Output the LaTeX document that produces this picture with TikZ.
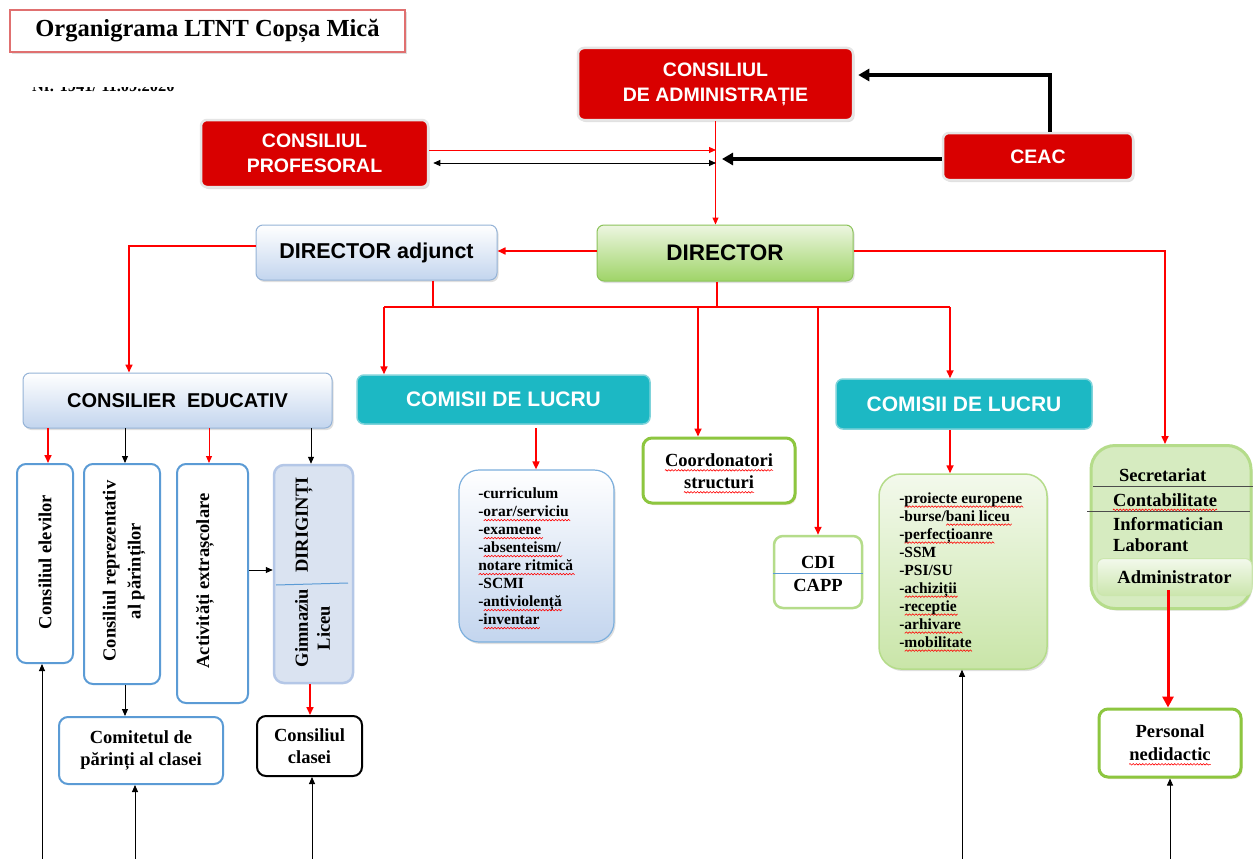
\documentclass[tikz,border=0pt]{standalone}
\usepackage{fontspec}
\setmainfont{Liberation Serif}
\newfontfamily\arialf{Liberation Sans}
\usetikzlibrary{arrows.meta,shadows,decorations.pathmorphing}
\definecolor{boxred}{HTML}{D90000}
\definecolor{tealc}{HTML}{1CB8C4}
\definecolor{tealb}{HTML}{7FD3DA}
\definecolor{gradblue}{HTML}{C3D5EE}
\definecolor{bordblue}{HTML}{95B3D7}
\definecolor{lblue}{HTML}{5B9BD5}
\definecolor{dirgtop}{HTML}{EDF6E1}
\definecolor{dirgbot}{HTML}{9FD468}
\definecolor{dirgb}{HTML}{8CC35A}
\definecolor{gbord}{HTML}{8DC63F}
\definecolor{lgbord}{HTML}{B5DC8A}
\definecolor{secfill}{HTML}{D6EBC0}
\definecolor{l2top}{HTML}{F3F9EC}
\definecolor{l2bot}{HTML}{C9E5A8}
\definecolor{dirfill}{HTML}{DAE3F1}
\definecolor{dirbord}{HTML}{B4C7E7}
\definecolor{titleb}{HTML}{E07070}
\newsavebox\sqbox
\newdimen\sqx \newdimen\sqw \newcount\sqn
\newcommand\sqwave[1]{\sqw=#1\relax
 \begin{pgfpicture}%
  \pgfsetlinewidth{0.6pt}\pgfsetstrokecolor{red}%
  \pgfpathmoveto{\pgfpointorigin}\sqx=0pt \sqn=0
  \loop\ifdim\sqx<\sqw
    \advance\sqx by 1.6pt \advance\sqn by 1
    \ifodd\sqn \pgfpathlineto{\pgfpoint{\sqx}{1.5pt}}\else\pgfpathlineto{\pgfpoint{\sqx}{0pt}}\fi
  \repeat
  \pgfusepath{stroke}%
 \end{pgfpicture}}
\newcommand\sq[1]{\sbox\sqbox{#1}\leavevmode\rlap{\raisebox{-4.6pt}[0pt][0pt]{\sqwave{\wd\sqbox}}}#1}
\begin{document}
\begin{tikzpicture}[x=1pt,y=-1pt,
  shd/.style={drop shadow={opacity=0.25,shadow xshift=1.5pt,shadow yshift=-2pt}},
  redbox/.style={shd,rounded corners=6pt,fill=boxred,draw=black!10,line width=2.5pt,text=white,
     font=\arialf\bfseries\fontsize{19.5}{25}\selectfont,align=center,inner sep=0pt},
  bluegrad/.style={shd,rounded corners=7pt,top color=white,bottom color=gradblue,draw=bordblue,line width=1pt,
     font=\arialf\bfseries\fontsize{21.5}{24}\selectfont,inner sep=0pt},
  dirbox/.style={shd,rounded corners=7pt,top color=dirgtop,bottom color=dirgbot,draw=dirgb,line width=1pt,
     font=\arialf\bfseries\fontsize{22.5}{24}\selectfont,inner sep=0pt},
  tealbox/.style={rounded corners=7pt,fill=tealc,draw=tealb,line width=1.5pt,text=white,
     font=\arialf\bfseries\fontsize{21}{24}\selectfont,inner sep=0pt},
  tnr/.style={font=\bfseries\fontsize{18.5}{22}\selectfont,align=center,inner sep=0pt},
  tword/.style={font=\bfseries\fontsize{18.5}{22}\selectfont,inner sep=0pt},
  sqline/.style={draw=red,line width=0.6pt,decorate,decoration={zigzag,amplitude=0.75pt,segment length=3.2pt}},
  gbox/.style={rounded corners=9pt,fill=white,draw=gbord,line width=3pt,inner sep=0pt,
     drop shadow={opacity=0.35,fill=brown!60,shadow xshift=1.5pt,shadow yshift=-2pt}},
  lbox/.style={rounded corners=9pt,fill=white,draw=lblue,line width=2pt,inner sep=0pt},
  listf/.style={font=\bfseries\fontsize{15.5}{18}\selectfont,align=left,anchor=north west,inner sep=0pt},
  redln/.style={draw=red,line width=1.6pt},
  redarr/.style={redln,-{Triangle[length=8pt,width=7pt]}},
  redthin/.style={draw=red,line width=1pt,-{Triangle[length=7pt,width=6pt]}},
  blkarr/.style={draw=black,line width=0.9pt,-{Triangle[length=7pt,width=6pt]}},
  blkthick/.style={draw=black,line width=3.2pt,-{Triangle[length=11pt,width=12pt]}}]
\useasboundingbox (0,0) rectangle (1253,859);
\fill[white] (0,0) rectangle (1253,859);

% title
\node[shd,draw=titleb,line width=2pt,fill=white,minimum width=395,minimum height=42,inner sep=0pt,
  font=\bfseries\fontsize{24.5}{28}\selectfont] (title) at (207.5,31) {Organigrama LTNT Copșa Mică};
\begin{scope}
\clip (20,87) rectangle (220,96);
\node[anchor=base west,inner sep=0pt,font=\bfseries\fontsize{16.5}{18}\selectfont] (nr) at (32,92) {Nr. 1941/ 11.09.2020};
\end{scope}

% top boxes
\node[redbox,minimum width=275,minimum height=72] (ca) at (715.5,84) {CONSILIUL\\DE ADMINISTRAȚIE};
\node[redbox,minimum width=227,minimum height=67] (cp) at (314.5,153.5) {CONSILIUL\\PROFESORAL};
\node[redbox,minimum width=190,minimum height=47] (ceac) at (1038,156.5) {CEAC};

\node[dirbox,minimum width=256,minimum height=56] (dir) at (725,253) {DIRECTOR};
\node[bluegrad,minimum width=241,minimum height=55] (da) at (376.5,252.5) {DIRECTOR adjunct};
\node[bluegrad,minimum width=309,minimum height=55,font=\arialf\bfseries\fontsize{20}{24}\selectfont] (ce) at (177.5,400.5) {CONSILIER\ \ EDUCATIV};
\node[tealbox,minimum width=293,minimum height=49] (com1) at (503.5,399.5) {COMISII DE LUCRU};
\node[tealbox,minimum width=256,minimum height=50] (com2) at (964,404) {COMISII DE LUCRU};

\node[gbox,minimum width=152,minimum height=65] (coord) at (719,470.5) {};
\node[tword] (co1) at (719,460) {Coordonatori};
\node[tword] (co2) at (719,482) {structuri};
\draw[sqline] ([yshift=-4pt]co1.base west) -- ([yshift=-4pt]co1.base east);
\draw[sqline] ([yshift=-4pt]co2.base west) -- ([yshift=-4pt]co2.base east);

\node[rounded corners=9pt,fill=white,draw=lgbord,line width=2.5pt,minimum width=88,minimum height=72,inner sep=0pt] (cdi) at (818,572) {};
\draw[lblue,line width=1pt] (cdi.west |- 0,573) -- (cdi.east |- 0,573);
\node[tword] (cditxt) at (818,562) {CDI};
\node[tword] (capptxt) at (818,585) {CAPP};

% list boxes
\node[shd,rounded corners=20pt,top color=white,bottom color=gradblue,draw=lblue!80,line width=1.2pt,minimum width=155,minimum height=172] (list1) at (536.5,556) {};
\node[listf] (l1txt) at (478,487.5) {-curriculum\\-\sq{orar/serviciu}\\-\sq{examene}\\-\sq{absenteism/}\\\sq{notare ritmică}\\-SCMI\\-\sq{antiviolență}\\-\sq{inventar}};
\node[shd,rounded corners=22pt,top color=l2top,bottom color=l2bot,draw=lgbord,line width=1.5pt,minimum width=168,minimum height=195] (list2) at (963,571.5) {};
\node[listf] (l2txt) at (899,492) {-\sq{proiecte europene}\\-burse/\sq{bani liceu}\\-\sq{perfecțioanre}\\-SSM\\-PSI/SU\\-\sq{achiziții}\\-\sq{receptie}\\-\sq{arhivare}\\-\sq{mobilitate}};

% secretariat
\node[shd,rounded corners=24pt,fill=secfill,draw=lgbord,line width=3pt,minimum width=160,minimum height=163] (secr) at (1171,527) {};
\draw[black!70,line width=0.9pt] (1093,486) -- (1253,486);
\draw[black!70,line width=0.9pt] (1087,511) -- (1250,511);
\node[tword,anchor=west] (s1) at (1119,475) {Secretariat};
\node[tword,anchor=west] (s2) at (1113,500) {Contabilitate};
\draw[sqline] ([yshift=-3.5pt]s2.base west) -- ([yshift=-3.5pt]s2.base east);
\node[tword,anchor=west] (s3) at (1113,524) {Informatician};
\node[tword,anchor=west] (s4) at (1113,545) {Laborant};
\node[tword,rounded corners=7pt,top color=white!70!secfill,bottom color=secfill!85!gbord,draw=lgbord!70,line width=1pt,minimum width=155,minimum height=37] (admin) at (1174.5,577) {Administrator};

\node[gbox,minimum width=142,minimum height=68] (pers) at (1170,743) {};
\node[tword] (pe1) at (1170,731) {Personal};
\node[tword] (pe2) at (1170,754) {nedidactic};
\draw[sqline] ([yshift=-4pt]pe2.base west) -- ([yshift=-4pt]pe2.base east);

% left boxes
\node[lbox,minimum width=56,minimum height=199] (cel) at (45,563.5) {};
\node[tword,rotate=90] (celt) at (45,562) {Consiliul elevilor};
\node[lbox,minimum width=76,minimum height=220] (crp) at (122,574) {};
\node[tnr,rotate=90,font=\bfseries\fontsize{18.5}{25}\selectfont] (crpt) at (124,571) {Consiliul reprezentativ\\al părinților};
\node[lbox,minimum width=71,minimum height=239] (act) at (212.5,583.5) {};
\node[tword,rotate=90] (actt) at (205,581) {Activități extrașcolare};
\node[rounded corners=10pt,fill=dirfill,draw=dirbord,line width=2.5pt,minimum width=79,minimum height=218,inner sep=0pt] (dirig) at (313.5,574) {};
\draw[lblue,line width=1pt] (276,585) -- (348,583);
\node[tword,rotate=90] (dirt) at (304,525) {DIRIGINȚI};
\node[tnr,rotate=90] (gimt) at (312.5,628) {Gimnaziu\\Liceu};
\node[lbox,tnr,minimum width=164,minimum height=67] (comit) at (141,750.5) {Comitetul de\\părinți al clasei};
\node[lbox,tnr,draw=black,minimum width=105,minimum height=60] (cclas) at (309.5,746) {Consiliul\\clasei};

% ---- connectors ----
\draw[redthin] (ca.south) -- (ca.south |- dir.north);
\coordinate (j1) at (716,150);
\coordinate (j2) at (716,163);
\coordinate (j3) at (722,159);
\draw[redthin] (cp.east |- j1) -- (j1);
\draw[draw=black,line width=0.9pt,{Triangle[length=7pt,width=6pt]}-{Triangle[length=7pt,width=6pt]}] ([xshift=4pt]cp.east |- j2) -- (j2);
\draw[blkthick] (ceac.west |- j3) -- (j3);
\coordinate (c1) at (1050,75);
\draw[blkthick] (ceac.north -| c1) |- ([xshift=4pt]ca.east |- c1);

\draw[redarr] (dir.west |- 0,251) -- (da.east |- 0,251);
\coordinate (k1) at (129,246);
\draw[redln,-{Triangle[length=8pt,width=7pt]}] (da.west |- k1) -| (ce.north -| k1);

\coordinate (b1) at (384,307);
\coordinate (b2) at (433,307);
\coordinate (b3) at (717,307);
\coordinate (b4) at (698,307);
\coordinate (b5) at (818,307);
\coordinate (b6) at (950,307);
\draw[redln] (b1) -- (b6);
\draw[redln] (da.south -| b2) -- (b2);
\draw[redln] (dir.south -| b3) -- (b3);
\draw[redarr] (b1) -- (com1.north -| b1);
\draw[redarr] (b4) -- (coord.north -| b4);
\draw[redarr] (b5) -- (cdi.north -| b5);
\draw[redarr] (b6) -- (com2.north -| b6);
\coordinate (r1) at (1165,251);
\draw[redln,-{Triangle[length=8pt,width=7pt]}] (dir.east |- r1) -| (secr.north -| r1);

\coordinate (m1) at (536,428);
\draw[redarr] (m1) -- (list1.north -| m1);
\coordinate (m2) at (950,430);
\draw[redarr] (m2) -- (list2.north -| m2);
\coordinate (m3) at (1168,590);
\draw[draw=red,line width=3pt,-{Triangle[length=11pt,width=11pt]}] (m3) -- (pers.north -| m3);

% consilier educativ children
\coordinate (n1) at (48,428);
\coordinate (n2) at (125,428);
\coordinate (n3) at (209,428);
\coordinate (n4) at (311,428);
\draw[redarr] (n1) -- (cel.north -| n1);
\draw[blkarr] (n2) -- (crp.north -| n2);
\draw[redthin] (n3) -- (act.north -| n3);
\draw[blkarr] (n4) -- (dirig.north -| n4);
\draw[blkarr] (act.east |- 0,570) -- (dirig.west |- 0,570);
\draw[blkarr] (crp.south -| n2) -- (comit.north -| n2);
\coordinate (n5) at (310,683);
\draw[redarr] (dirig.south -| n5) -- (cclas.north -| n5);

% bottom arrows
\coordinate (e1) at (42,859);
\coordinate (e2) at (135,859);
\coordinate (e3) at (312,859);
\coordinate (e4) at (962,859);
\coordinate (e5) at (1170,859);
\draw[blkarr] (e1) -- (cel.south -| e1);
\draw[blkarr] (e2) -- (comit.south -| e2);
\draw[blkarr] (e3) -- (cclas.south -| e3);
\draw[blkarr] (e4) -- (list2.south -| e4);
\draw[blkarr] (e5) -- (pers.south -| e5);
\end{tikzpicture}
\end{document}
